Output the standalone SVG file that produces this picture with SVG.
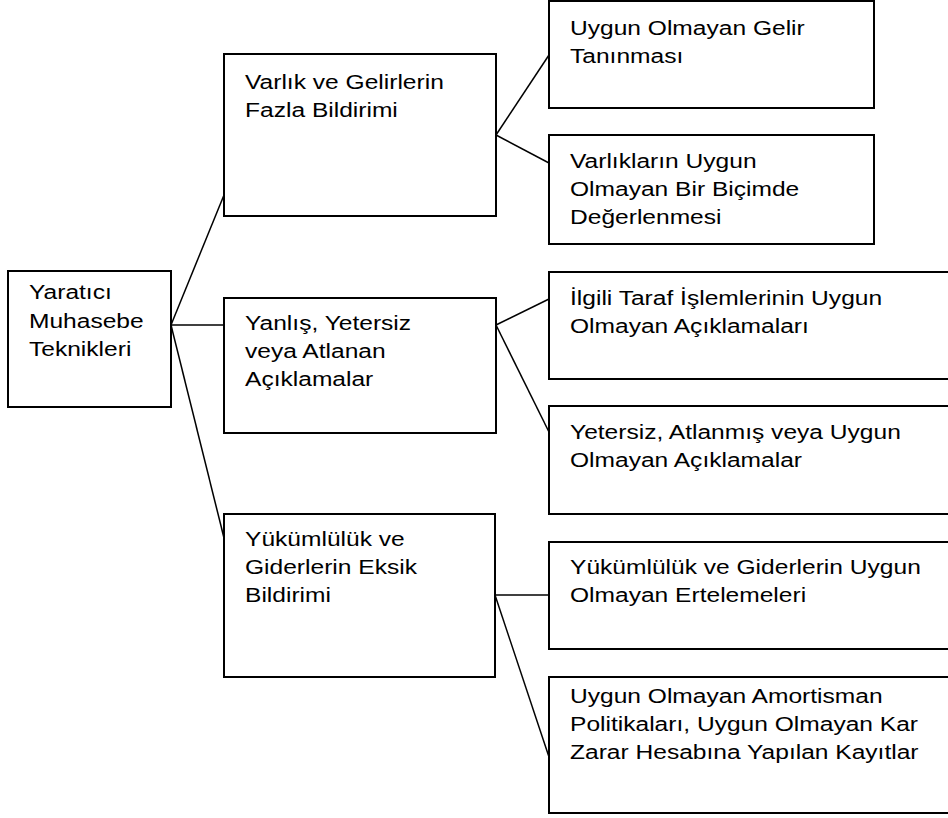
<svg xmlns="http://www.w3.org/2000/svg" width="948" height="818" viewBox="0 0 948 818">
<style>
.box{fill:#fff;stroke:#000;stroke-width:2}
.con line{stroke:#000;stroke-width:1.5}
text{font-family:"Liberation Sans",Arial,sans-serif;font-size:21px;fill:#000}
</style>
<rect width="948" height="818" fill="#fff"/>
<g id="connectors" class="con">
<line x1="171" y1="325" x2="224" y2="195"/>
<line x1="171" y1="325" x2="224" y2="325"/>
<line x1="171" y1="325" x2="224" y2="538"/>
<line x1="496" y1="135" x2="549" y2="55"/>
<line x1="496" y1="135" x2="549" y2="163"/>
<line x1="496" y1="325" x2="549" y2="299"/>
<line x1="496" y1="325" x2="549" y2="432"/>
<line x1="495" y1="595" x2="549" y2="595"/>
<line x1="495" y1="595" x2="549" y2="757"/>
</g>
<g id="root">
<rect class="box" x="8" y="271" width="163" height="136"/>
<text transform="translate(29,299) scale(1.17,1)"><tspan x="0">Yaratıcı</tspan><tspan x="0" dy="29">Muhasebe</tspan><tspan x="0" dy="28">Teknikleri</tspan></text>
</g>
<g id="n-varlik">
<rect class="box" x="224" y="54" width="272" height="162"/>
<text transform="translate(245,89) scale(1.17,1)"><tspan x="0">Varlık ve Gelirlerin</tspan><tspan x="0" dy="28">Fazla Bildirimi</tspan></text>
</g>
<g id="n-yanlis">
<rect class="box" x="224" y="298" width="272" height="135"/>
<text transform="translate(245,330) scale(1.17,1)"><tspan x="0">Yanlış, Yetersiz</tspan><tspan x="0" dy="28">veya Atlanan</tspan><tspan x="0" dy="28">Açıklamalar</tspan></text>
</g>
<g id="n-yukumluluk">
<rect class="box" x="224" y="514" width="271" height="163"/>
<text transform="translate(245,546) scale(1.17,1)"><tspan x="0">Yükümlülük ve</tspan><tspan x="0" dy="28">Giderlerin Eksik</tspan><tspan x="0" dy="28">Bildirimi</tspan></text>
</g>
<g id="r1">
<rect class="box" x="549" y="1" width="325" height="107"/>
<text transform="translate(570,35) scale(1.17,1)"><tspan x="0">Uygun Olmayan Gelir</tspan><tspan x="0" dy="28">Tanınması</tspan></text>
</g>
<g id="r2">
<rect class="box" x="549" y="135" width="325" height="109"/>
<text transform="translate(570,168) scale(1.17,1)"><tspan x="0">Varlıkların Uygun</tspan><tspan x="0" dy="28">Olmayan Bir Biçimde</tspan><tspan x="0" dy="28">Değerlenmesi</tspan></text>
</g>
<g id="r3">
<rect class="box" x="549" y="272" width="410" height="107"/>
<text transform="translate(570,305) scale(1.17,1)"><tspan x="0">İlgili Taraf İşlemlerinin Uygun</tspan><tspan x="0" dy="28">Olmayan Açıklamaları</tspan></text>
</g>
<g id="r4">
<rect class="box" x="549" y="406" width="410" height="108"/>
<text transform="translate(570,439) scale(1.17,1)"><tspan x="0">Yetersiz, Atlanmış veya Uygun</tspan><tspan x="0" dy="28">Olmayan Açıklamalar</tspan></text>
</g>
<g id="r5">
<rect class="box" x="549" y="542" width="410" height="107"/>
<text transform="translate(570,574) scale(1.17,1)"><tspan x="0">Yükümlülük ve Giderlerin Uygun</tspan><tspan x="0" dy="28">Olmayan Ertelemeleri</tspan></text>
</g>
<g id="r6">
<rect class="box" x="549" y="677" width="410" height="136"/>
<text transform="translate(570,703) scale(1.17,1)"><tspan x="0">Uygun Olmayan Amortisman</tspan><tspan x="0" dy="28">Politikaları, Uygun Olmayan Kar</tspan><tspan x="0" dy="28">Zarar Hesabına Yapılan Kayıtlar</tspan></text>
</g>
</svg>
